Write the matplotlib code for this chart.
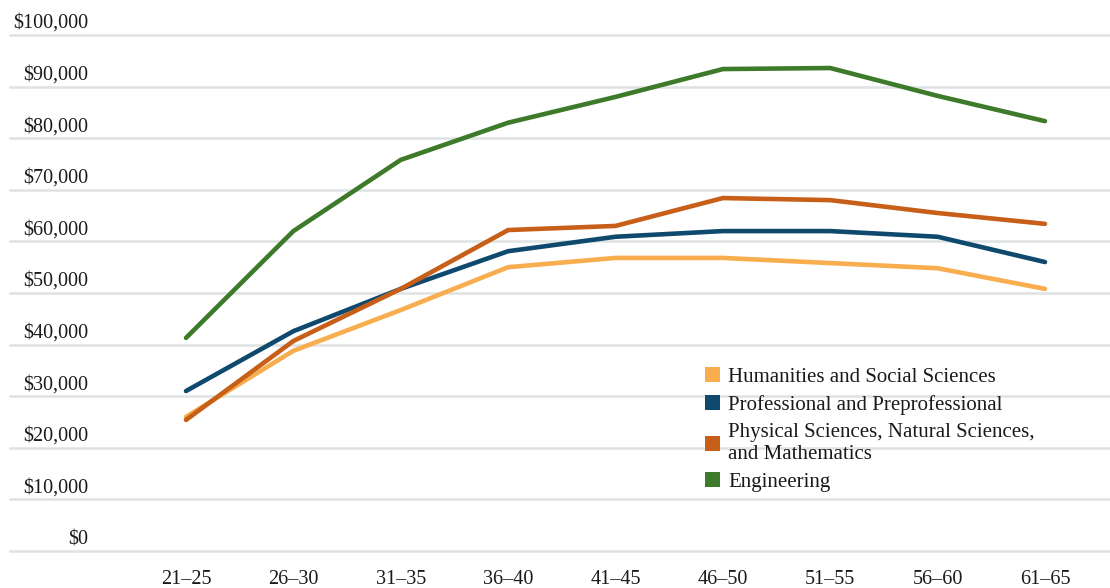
import matplotlib.pyplot as plt
from matplotlib.patches import Patch
from matplotlib.transforms import offset_copy

plt.rcParams['font.family'] = ['Liberation Serif', 'DejaVu Serif']

# data
ages = ['21–25', '26–30', '31–35', '36–40', '41–45', '46–50', '51–55', '56–60', '61–65']
humanities = [26000, 38800, 46700, 55000, 56800, 56800, 55800, 54800, 50800]
professional = [31000, 42600, 50800, 58100, 60900, 62000, 62000, 60900, 56000]
physical = [25400, 40700, 50800, 62200, 63000, 68400, 68000, 65500, 63400]
engineering = [41300, 62000, 75800, 83000, 88000, 93400, 93600, 88200, 83300]
yticks = [0, 10000, 20000, 30000, 40000, 50000, 60000, 70000, 80000, 90000, 100000]

names = ['Humanities and Social Sciences', 'Professional and Preprofessional',
         'Physical Sciences, Natural Sciences,\nand Mathematics', 'Engineering']
colors = ['#f8ad4f', '#0f4a6e', '#c75f18', '#3d7a2a']

W, H = 1110, 588
fig = plt.figure(figsize=(W / 100, H / 100), dpi=100)
ax = fig.add_axes([10 / W, 37 / H, 1100 / W, 516 / H])

for v in yticks:
    ax.axhline(v, color='#dfe3e3', lw=1.8, zorder=1, clip_on=False)

x = list(range(len(ages)))
series = [humanities, professional, physical, engineering]
for vals, c in zip(series, colors):
    ax.plot(x, vals, color=c, lw=3.3, zorder=3, solid_capstyle='round', solid_joinstyle='round')

step = (1045 - 186) / 8
ax.set_xlim(-(186 - 10) / step, 8 + (1110 - 1045) / step)
ax.set_ylim(0, 100000)

# y labels sit above their gridlines
lbl_tr = offset_copy(ax.get_yaxis_transform(), fig=fig, x=0, y=2, units='dots')
for v in yticks:
    ax.text(78 / 1100, v, '${:,}'.format(v), transform=lbl_tr, ha='right', va='bottom',
            fontsize=14.5, color='#1a1a1a')

ax.set_yticks([])
ax.set_xticks(x)
ax.set_xticklabels(ages, fontsize=14.5, color='#1a1a1a')
ax.tick_params(axis='x', length=0, pad=14)
for s in ax.spines.values():
    s.set_visible(False)

handles = [Patch(facecolor=c, edgecolor='none') for c in colors]
fig.legend(handles, names, loc='upper left', bbox_to_anchor=(705 / W, 1 - 367 / H),
           frameon=False, fontsize=15, handlelength=0.7, handleheight=0.7,
           handletextpad=0.42, labelspacing=0.4, borderpad=0, borderaxespad=0,
           labelcolor='#1a1a1a')

fig.savefig('out.png', dpi=100)
